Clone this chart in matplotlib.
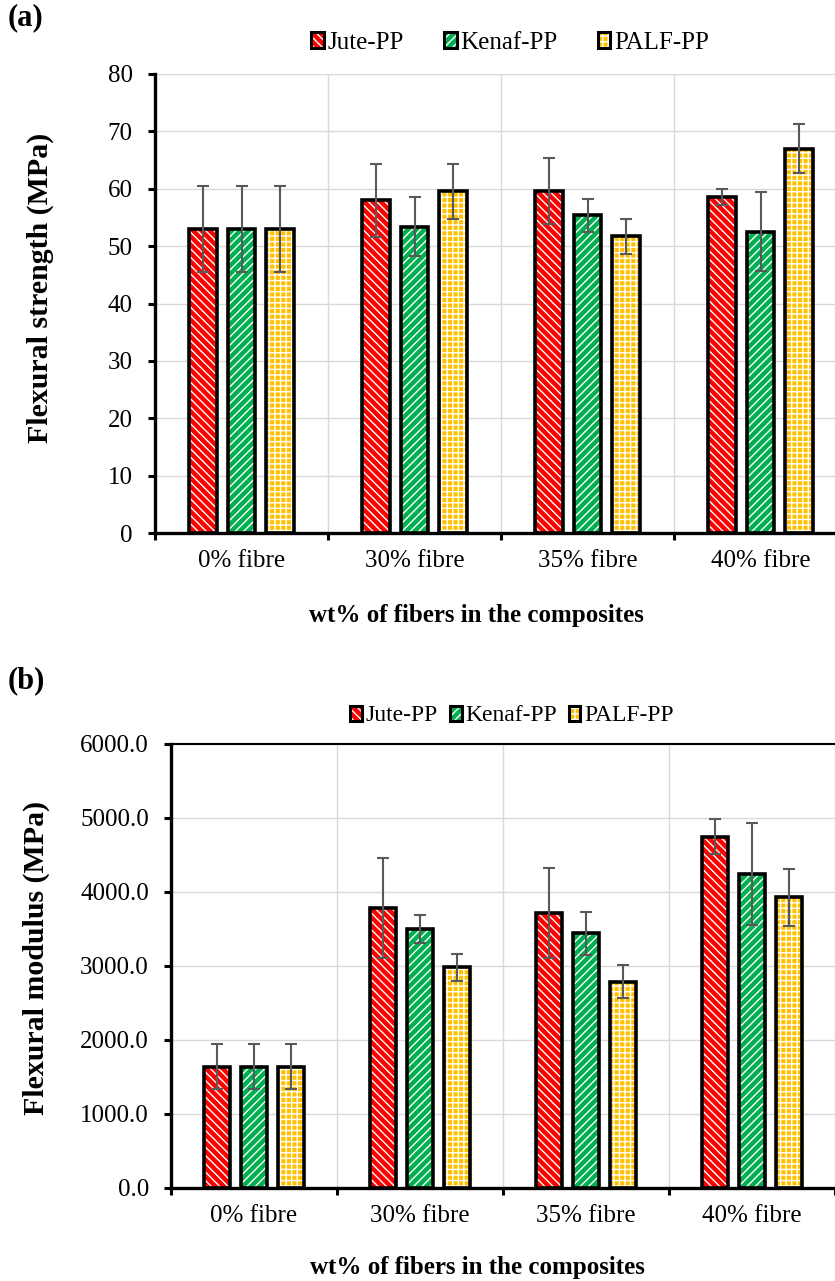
import numpy as np
import matplotlib
matplotlib.use("Agg")
import matplotlib.pyplot as plt
from matplotlib.patches import Patch

plt.rcParams['font.family'] = ['Liberation Serif', 'DejaVu Serif']
plt.rcParams['font.size'] = 18
plt.rcParams['hatch.linewidth'] = 1.0

# ---- data
categories = ['0% fibre', '30% fibre', '35% fibre', '40% fibre']
series = ['Jute-PP', 'Kenaf-PP', 'PALF-PP']

strength_jute = [53.0, 58.0, 59.6, 58.6]
strength_kenaf = [53.0, 53.4, 55.4, 52.5]
strength_palf = [53.0, 59.6, 51.7, 67.0]
strength_jute_err = [7.5, 6.4, 5.8, 1.4]
strength_kenaf_err = [7.5, 5.1, 2.9, 6.9]
strength_palf_err = [7.5, 4.8, 3.0, 4.2]

modulus_jute = [1640, 3780, 3720, 4750]
modulus_kenaf = [1640, 3500, 3445, 4245]
modulus_palf = [1640, 2980, 2790, 3930]
modulus_jute_err = [300, 675, 610, 230]
modulus_kenaf_err = [300, 195, 290, 690]
modulus_palf_err = [300, 180, 220, 385]

colors = ['#ff0000', '#00b050', '#ffc000']
hatches = ['\\\\\\\\', '////', '+++']

W, H = 835, 1281
fig = plt.figure(figsize=(W / 100, H / 100), dpi=100)


def draw_panel(ax, values, errors, ylim, yticks, fmt, ylabel, label_xy, top_spine):
    x = np.arange(len(categories)) + 0.5
    offs = [-0.222, 0.0, 0.222]
    for j in range(3):
        ax.bar(x + offs[j], values[j], width=0.16, color=colors[j],
               edgecolor='white', hatch=hatches[j], linewidth=0, zorder=2)
        ax.bar(x + offs[j], values[j], width=0.16, fill=False,
               edgecolor='black', linewidth=2.6, zorder=3)
        ax.errorbar(x + offs[j], values[j], yerr=errors[j], fmt='none',
                    ecolor='#595959', elinewidth=1.5, capsize=4.3,
                    capthick=1.5, zorder=4)

    ax.set_xlim(0, 4)
    ax.set_ylim(*ylim)
    ax.set_yticks(yticks)
    ax.set_yticklabels([fmt.format(v) for v in yticks])
    ax.set_xticks(range(5))
    ax.set_xticklabels([])
    ax.set_xticks(x, minor=True)
    ax.set_xticklabels(categories, minor=True)
    ax.tick_params(axis='x', which='minor', length=0, pad=12)
    ax.tick_params(axis='both', which='major', direction='out', length=5,
                   width=2.2, color='black', pad=11)

    ax.grid(True, which='major', color='#d9d9d9', linewidth=1.0)
    ax.set_axisbelow(True)

    for s in ['left', 'bottom']:
        ax.spines[s].set_linewidth(2.4)
        ax.spines[s].set_color('black')
    ax.spines['right'].set_visible(False)
    if top_spine:
        ax.spines['top'].set_linewidth(1.5)
        ax.spines['top'].set_color('black')
    else:
        ax.spines['top'].set_visible(False)

    ax.set_ylabel(ylabel, fontweight='bold', va='center', fontsize=21.5)
    ax.yaxis.set_label_coords(*label_xy[0])
    ax.set_xlabel('wt% of fibers in the composites', fontweight='bold', va='center')
    ax.xaxis.set_label_coords(*label_xy[1])


def legend_handles():
    hs = []
    for j in range(3):
        p1 = Patch(facecolor=colors[j], edgecolor='white', hatch=hatches[j], linewidth=0)
        p2 = Patch(fill=False, edgecolor='black', linewidth=2.2)
        hs.append((p1, p2))
    return hs


# panel (a)
ax1 = fig.add_axes([155 / W, 1 - 533 / H, 692 / W, 459 / H])
draw_panel(ax1, [strength_jute, strength_kenaf, strength_palf],
           [strength_jute_err, strength_kenaf_err, strength_palf_err],
           (0, 80), np.arange(0, 81, 10), '{:.0f}', 'Flexural strength (MPa)',
           [(-0.165, 0.534), (0.465, -0.179)], top_spine=False)
fig.legend(legend_handles(), series, loc='center', bbox_to_anchor=(510 / W, 1 - 43 / H),
           ncol=3, frameon=False, handlelength=0.5, handleheight=0.6,
           handletextpad=0.15, columnspacing=1.6, fontsize=18)
fig.text(8 / W, 1 - 18 / H, '(a)', fontweight='bold', fontsize=22, va='center', ha='left')

# panel (b)
ax2 = fig.add_axes([171 / W, 1 - 1188 / H, 664 / W, 444 / H])
draw_panel(ax2, [modulus_jute, modulus_kenaf, modulus_palf],
           [modulus_jute_err, modulus_kenaf_err, modulus_palf_err],
           (0, 6000), np.arange(0, 6001, 1000), '{:.1f}', 'Flexural modulus (MPa)',
           [(-0.203, 0.518), (0.461, -0.18)], top_spine=True)
fig.legend(legend_handles(), series, loc='center', bbox_to_anchor=(512 / W, 1 - 716 / H),
           ncol=3, frameon=False, handlelength=0.5, handleheight=0.6,
           handletextpad=0.15, columnspacing=0.5, fontsize=17)
fig.text(8 / W, 1 - 681 / H, '(b)', fontweight='bold', fontsize=22, va='center', ha='left')

fig.savefig('out.png', dpi=100)
